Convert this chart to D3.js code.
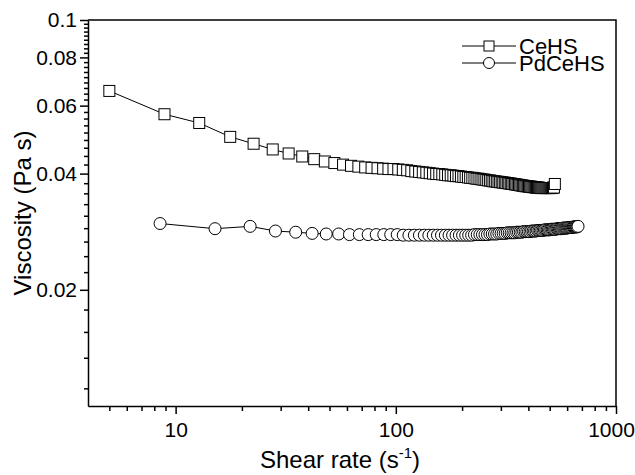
<!doctype html>
<html lang="en">
<head>
<meta charset="utf-8">
<title>Viscosity vs shear rate</title>
<script src="https://d3js.org/d3.v7.min.js"></script>
<style>
  body { margin: 0; background: #fff; }
  svg text { font-family: "Liberation Sans", Arial, sans-serif; fill: #000; }
  .axis path, .axis line { stroke: #000; stroke-width: 1.5; }
</style>
</head>
<body>
<svg id="chart" width="635" height="475"></svg>
<script>
// [shear rate (1/s), viscosity (Pa s)]
var cehs = [
  [5, 0.0655], [8.9, 0.0570], [12.8, 0.0541], [17.7, 0.0498], [22.6, 0.0478],
  [27.6, 0.0462], [32.6, 0.0451], [37.6, 0.0443], [42.6, 0.0436], [47.6, 0.0430],
  [52.6, 0.0426], [57.6, 0.0422], [62.6, 0.0419], [67.6, 0.0417], [72.6, 0.0415],
  [77.6, 0.0414], [82.6, 0.0413], [87.6, 0.0412], [92.6, 0.0411], [97.6, 0.0411],
  [102.6, 0.0410], [107.6, 0.0409], [112.6, 0.0408], [117.6, 0.0406], [122.6, 0.0405],
  [127.6, 0.0404], [132.6, 0.0403], [137.6, 0.0402], [142.6, 0.0401], [147.6, 0.0400],
  [152.6, 0.0399], [157.6, 0.0399], [162.6, 0.0398], [167.6, 0.0397], [172.6, 0.0396],
  [177.6, 0.0396], [182.6, 0.0395], [187.6, 0.0394], [192.6, 0.0394], [197.6, 0.0393],
  [202.6, 0.0392], [207.6, 0.0392], [212.6, 0.0391], [217.6, 0.0390], [222.6, 0.0390],
  [227.6, 0.0389], [232.6, 0.0388], [237.6, 0.0388], [242.6, 0.0387], [247.6, 0.0386],
  [252.6, 0.0386], [257.6, 0.0385], [262.6, 0.0384], [267.6, 0.0384], [272.6, 0.0383],
  [277.6, 0.0382], [282.6, 0.0382], [287.6, 0.0381], [292.6, 0.0381], [297.6, 0.0380],
  [302.6, 0.0380], [307.6, 0.0379], [312.6, 0.0379], [317.6, 0.0378], [322.6, 0.0378],
  [327.6, 0.0377], [332.6, 0.0377], [337.6, 0.0376], [342.6, 0.0376], [347.6, 0.0375],
  [352.6, 0.0375], [357.6, 0.0374], [362.6, 0.0374], [367.6, 0.0373], [372.6, 0.0373],
  [377.6, 0.0372], [382.6, 0.0372], [387.6, 0.0371], [392.6, 0.0371], [397.6, 0.0371],
  [402.6, 0.0370], [407.6, 0.0370], [412.6, 0.0370], [417.6, 0.0369], [422.6, 0.0369],
  [427.6, 0.0369], [432.6, 0.0368], [437.6, 0.0368], [442.6, 0.0368], [447.6, 0.0368],
  [452.6, 0.0367], [457.6, 0.0367], [462.6, 0.0367], [467.6, 0.0367], [472.6, 0.0367],
  [477.6, 0.0367], [482.6, 0.0367], [487.6, 0.0367], [492.6, 0.0367], [497.6, 0.0367],
  [502.6, 0.0367], [507.6, 0.0367], [512.6, 0.0367], [517.6, 0.0368], [522.6, 0.0368],
  [527.6, 0.0376]
];

var pdcehs = [
  [8.5, 0.0297], [15.1, 0.0288], [21.8, 0.0292], [28.4, 0.0284], [35.1, 0.0282],
  [41.7, 0.0280], [48.3, 0.0279], [55.0, 0.0279], [61.6, 0.0278], [68.3, 0.0278],
  [74.9, 0.0278], [81.5, 0.0278], [88.2, 0.0278], [94.8, 0.0278], [101.5, 0.0278],
  [108.1, 0.0277], [114.7, 0.0277], [121.4, 0.0277], [128.0, 0.0277], [134.7, 0.0277],
  [141.3, 0.0277], [147.9, 0.0277], [154.6, 0.0277], [161.2, 0.0277], [167.9, 0.0277],
  [174.5, 0.0277], [181.1, 0.0277], [187.8, 0.0277], [194.4, 0.0277], [201.1, 0.0277],
  [207.7, 0.0277], [214.3, 0.0277], [221.0, 0.0277], [227.6, 0.0278], [234.3, 0.0278],
  [240.9, 0.0278], [247.5, 0.0278], [254.2, 0.0278], [260.8, 0.0278], [267.5, 0.0279],
  [274.1, 0.0279], [280.7, 0.0279], [287.4, 0.0279], [294.0, 0.0280], [300.7, 0.0280],
  [307.3, 0.0280], [313.9, 0.0280], [320.6, 0.0281], [327.2, 0.0281], [333.9, 0.0281],
  [340.5, 0.0281], [347.1, 0.0281], [353.8, 0.0282], [360.4, 0.0282], [367.1, 0.0282],
  [373.7, 0.0282], [380.3, 0.0283], [387.0, 0.0283], [393.6, 0.0283], [400.3, 0.0283],
  [406.9, 0.0283], [413.5, 0.0284], [420.2, 0.0284], [426.8, 0.0284], [433.5, 0.0284],
  [440.1, 0.0285], [446.7, 0.0285], [453.4, 0.0285], [460.0, 0.0285], [466.7, 0.0285],
  [473.3, 0.0286], [479.9, 0.0286], [486.6, 0.0286], [493.2, 0.0286], [499.9, 0.0286],
  [506.5, 0.0287], [513.1, 0.0287], [519.8, 0.0287], [526.4, 0.0287], [533.1, 0.0287],
  [539.7, 0.0288], [546.3, 0.0288], [553.0, 0.0288], [559.6, 0.0288], [566.3, 0.0288],
  [572.9, 0.0289], [579.5, 0.0289], [586.2, 0.0289], [592.8, 0.0289], [599.5, 0.0289],
  [606.1, 0.0290], [612.7, 0.0290], [619.4, 0.0290], [626.0, 0.0290], [632.7, 0.0290],
  [639.3, 0.0291], [645.9, 0.0291], [652.6, 0.0291], [659.2, 0.0291], [665.9, 0.0291],
  [672.5, 0.0292]
];

var seriesNames = ["CeHS", "PdCeHS"];
var xMajor = [10, 100, 1000];
var xMinor = [5, 6, 7, 8, 9, 20, 30, 40, 50, 60, 70, 80, 90, 200, 300, 400, 500, 600, 700, 800, 900];
var yMajor = [0.02, 0.04, 0.06, 0.08, 0.1];

var svg = d3.select("#chart");
var plotLeft = 88, plotRight = 616, plotTop = 20, plotBottom = 406;
var tickFont = 21, titleFont = 24, legendFont = 22;

var x = d3.scaleLog().domain([4, 1000]).range([plotLeft, plotRight]);
var y = d3.scaleLog().domain([0.01, 0.1]).range([plotBottom, plotTop]);

// minor ticks on y: 8 between each pair of labelled values, also below 0.02
var yMinor = [];
[0.0, 0.02, 0.04, 0.06, 0.08].forEach(function(a) {
  for (var k = 1; k <= 8; k++) {
    var v = a + k * 0.02 / 9;
    if (v > 0.01) yMinor.push(v);
  }
});

// frame (top and right)
svg.append("path")
  .attr("d", "M" + plotLeft + "," + plotTop + "H" + plotRight + "V" + plotBottom)
  .attr("fill", "none").attr("stroke", "#000").attr("stroke-width", 1.5);

var xAxisG = svg.append("g").attr("class", "axis").attr("transform", "translate(0," + plotBottom + ")");
xAxisG.call(d3.axisBottom(x).tickValues(xMinor).tickSize(5).tickSizeOuter(0).tickFormat(""));
xAxisG.append("g").call(d3.axisBottom(x).tickValues(xMajor).tickSize(8).tickSizeOuter(0).tickFormat(d3.format("d")))
  .call(function(g) { g.select(".domain").remove(); });
xAxisG.selectAll("text").attr("font-size", tickFont).attr("y", 31).attr("dy", 0)
  .attr("dx", function(d) { return d === 1000 ? -5 : 0; })
  .style("font-family", '"Liberation Sans", Arial, sans-serif').attr("fill", "#000");

var yAxisG = svg.append("g").attr("class", "axis").attr("transform", "translate(" + plotLeft + ",0)");
yAxisG.call(d3.axisLeft(y).tickValues(yMinor).tickSize(4).tickSizeOuter(0).tickFormat(""));
yAxisG.append("g").call(d3.axisLeft(y).tickValues(yMajor).tickSize(8).tickSizeOuter(0).tickFormat(function(d) { return String(+d.toFixed(2)); }))
  .call(function(g) { g.select(".domain").remove(); });
yAxisG.selectAll("text").attr("font-size", tickFont).attr("x", -11)
  .style("font-family", '"Liberation Sans", Arial, sans-serif').attr("fill", "#000");

// axis titles
svg.append("text")
  .attr("x", 340).attr("y", 468)
  .attr("text-anchor", "middle").attr("font-size", titleFont)
  .call(function(t) {
    t.append("tspan").text("Shear rate (s");
    t.append("tspan").attr("font-size", 15).attr("dy", -10).text("-1");
    t.append("tspan").attr("dy", 10).text(")");
  });

svg.append("text")
  .attr("transform", "translate(31," + ((plotTop + plotBottom) / 2) + ") rotate(-90)")
  .attr("text-anchor", "middle").attr("font-size", titleFont)
  .text("Viscosity (Pa s)");

var line = d3.line()
  .x(function(d) { return x(d[0]); })
  .y(function(d) { return y(d[1]); });

function drawSquares(data) {
  svg.append("path").datum(data).attr("d", line)
    .attr("fill", "none").attr("stroke", "#000").attr("stroke-width", 1);
  svg.append("g").selectAll("rect").data(data).enter().append("rect")
    .attr("x", function(d) { return x(d[0]) - 5.5; })
    .attr("y", function(d) { return y(d[1]) - 5.5; })
    .attr("width", 11).attr("height", 11)
    .attr("fill", "#fff").attr("stroke", "#000").attr("stroke-width", 1);
}

function drawCircles(data) {
  svg.append("path").datum(data).attr("d", line)
    .attr("fill", "none").attr("stroke", "#000").attr("stroke-width", 1);
  svg.append("g").selectAll("circle").data(data).enter().append("circle")
    .attr("cx", function(d) { return x(d[0]); })
    .attr("cy", function(d) { return y(d[1]); })
    .attr("r", 6)
    .attr("fill", "#fff").attr("stroke", "#000").attr("stroke-width", 1);
}

drawSquares(cehs);
drawCircles(pdcehs);

// legend
var legend = svg.append("g");
seriesNames.forEach(function(name, i) {
  var ly = 46 + i * 17;
  legend.append("line").attr("x1", 462).attr("x2", 516).attr("y1", ly).attr("y2", ly)
    .attr("stroke", "#000").attr("stroke-width", 1);
  if (i === 0) {
    legend.append("rect").attr("x", 484).attr("y", ly - 5).attr("width", 10).attr("height", 10)
      .attr("fill", "#fff").attr("stroke", "#000");
  } else {
    legend.append("circle").attr("cx", 489).attr("cy", ly).attr("r", 5.5)
      .attr("fill", "#fff").attr("stroke", "#000");
  }
  legend.append("text").attr("x", 519).attr("y", ly + 7.5).attr("font-size", legendFont).text(name);
});
</script>
</body>
</html>
